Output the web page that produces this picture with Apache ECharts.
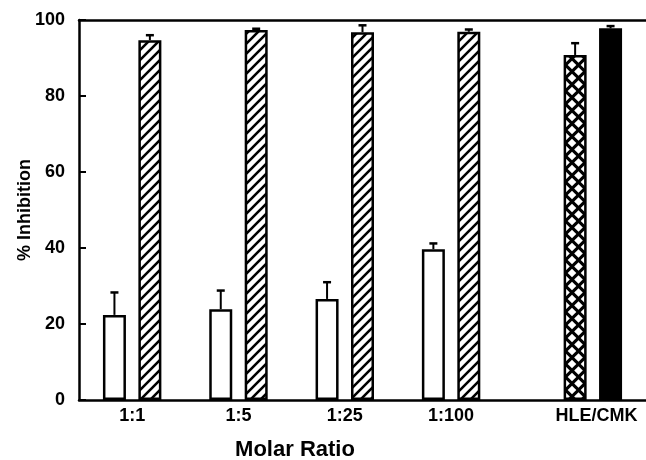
<!DOCTYPE html>
<html>
<head>
<meta charset="utf-8">
<script src="https://cdn.jsdelivr.net/npm/echarts@6/dist/echarts.min.js"></script>
<style>
html,body{margin:0;padding:0;background:#fff;}
#chart{width:646px;height:460px;}
</style>
</head>
<body>
<div id="chart"></div>
<script>
// ---- data ----
const categories = ['1:1', '1:5', '1:25', '1:100', 'HLE/CMK'];
const inhibitorAlone = [22.4, 23.9, 26.6, 39.7];      // open bars
const inhibitorAloneErr = [5.9, 4.9, 4.4, 1.5];
const inhibitorCombined = [94.7, 97.4, 96.8, 96.9];   // hatched bars
const inhibitorCombinedErr = [1.3, 0.3, 1.8, 0.6];
const hleValue = 90.8;      // cross-hatched bar
const hleErr = 3.1;
const cmkValue = 97.8;      // solid bar
const cmkErr = 0.6;
const yTicks = [0, 20, 40, 60, 80, 100];

// ---- layout helpers (slot positions on the x scale) ----
const groupCenters = [1.5, 4.5, 7.5, 10.5, 14.6];
const FONT = 'Liberation Sans, Arial, sans-serif';

function makeHatch() {
  const c = document.createElement('canvas');
  c.width = 10; c.height = 10;
  const g = c.getContext('2d');
  g.fillStyle = '#fff'; g.fillRect(0, 0, 10, 10);
  g.strokeStyle = '#000'; g.lineWidth = 2.6;
  g.beginPath();
  g.moveTo(-1, 11); g.lineTo(11, -1);
  g.moveTo(-6, 6); g.lineTo(6, -6);
  g.moveTo(4, 16); g.lineTo(16, 4);
  g.stroke();
  return c;
}
function makeCross() {
  const s = 13, r = 4.3;
  const c = document.createElement('canvas');
  c.width = s; c.height = s;
  const g = c.getContext('2d');
  g.fillStyle = '#000'; g.fillRect(0, 0, s, s);
  g.fillStyle = '#fff';
  const pts = [[s/2, s/2], [0, 0], [s, 0], [0, s], [s, s]];
  pts.forEach(([x, y]) => {
    g.beginPath();
    g.moveTo(x, y - r); g.lineTo(x + r, y); g.lineTo(x, y + r); g.lineTo(x - r, y);
    g.closePath(); g.fill();
  });
  return c;
}
const hatchPattern = { image: makeHatch(), repeat: 'repeat' };
const crossPattern = { image: makeCross(), repeat: 'repeat' };

const barData = [];
const errData = [];
for (let i = 0; i < inhibitorAlone.length; i++) {
  const xa = groupCenters[i] - 0.5, xc = groupCenters[i] + 0.5;
  barData.push({ value: [xa, inhibitorAlone[i]], itemStyle: { color: '#fff' } });
  barData.push({ value: [xc, inhibitorCombined[i]], itemStyle: { color: hatchPattern } });
  errData.push([xa, inhibitorAlone[i], inhibitorAlone[i] + inhibitorAloneErr[i]]);
  errData.push([xc, inhibitorCombined[i], inhibitorCombined[i] + inhibitorCombinedErr[i]]);
}
const hx = 14, cx = 15;
barData.push({ value: [hx, hleValue], itemStyle: { color: crossPattern } });
barData.push({ value: [cx, cmkValue], itemStyle: { color: '#000' } });
errData.push([hx, hleValue, hleValue + hleErr]);
errData.push([cx, cmkValue, cmkValue + cmkErr]);

const chart = echarts.init(document.getElementById('chart'), null, { renderer: 'canvas' });
chart.setOption({
  backgroundColor: '#fff',
  animation: false,
  grid: { left: 79, right: -2, top: 20, bottom: 60 },
  xAxis: [{
    type: 'value', min: 0, max: 16, position: 'bottom',
    axisLine: { show: true, lineStyle: { color: '#000', width: 2.5 } },
    axisTick: { show: false },
    splitLine: { show: false },
    axisLabel: {
      customValues: groupCenters,
      formatter: v => categories[groupCenters.indexOf(v)] || '',
      color: '#000', fontFamily: FONT, fontWeight: 'bold', fontSize: 18, margin: 7
    }
  }, {
    type: 'value', min: 0, max: 16, position: 'top',
    axisLine: { show: true, onZero: false, lineStyle: { color: '#000', width: 2.5 } },
    axisTick: { show: false }, axisLabel: { show: false }, splitLine: { show: false }
  }],
  yAxis: {
    type: 'value', min: 0, max: 100, interval: 20,
    name: '% Inhibition', nameLocation: 'middle', nameGap: 45, nameMoveOverlap: false,
    nameTextStyle: { color: '#000', fontFamily: FONT, fontWeight: 'bold', fontSize: 18 },
    axisLine: { show: true, lineStyle: { color: '#000', width: 2.5 } },
    axisTick: { show: true, inside: true, length: 7, lineStyle: { color: '#000', width: 2 } },
    splitLine: { show: false },
    axisLabel: {
      color: '#000', fontFamily: FONT, fontWeight: 'bold', fontSize: 18, margin: 14,
      formatter: v => (yTicks.indexOf(v) >= 0 ? String(v) : '')
    }
  },
  graphic: [{
    type: 'text', x: 295, y: 450,
    style: {
      text: 'Molar Ratio', fill: '#000', align: 'center', verticalAlign: 'middle',
      font: 'bold 22px ' + FONT
    }
  }],
  series: [{
    type: 'bar',
    xAxisIndex: 0,
    barWidth: 23,
    data: barData,
    itemStyle: { borderColor: '#000', borderWidth: 2.5 }
  }, {
    type: 'custom',
    xAxisIndex: 0,
    data: errData,
    z: 3,
    renderItem: function (params, api) {
      const x = api.value(0);
      const p0 = api.coord([x, api.value(1)]);
      const p1 = api.coord([x, api.value(2)]);
      return {
        type: 'group',
        children: [{
          type: 'line',
          shape: { x1: p0[0], y1: p0[1], x2: p1[0], y2: p1[1] },
          style: { stroke: '#000', lineWidth: 2 }
        }, {
          type: 'line',
          shape: { x1: p1[0] - 4, y1: p1[1], x2: p1[0] + 4, y2: p1[1] },
          style: { stroke: '#000', lineWidth: 2.5 }
        }]
      };
    }
  }]
});
</script>
</body>
</html>
